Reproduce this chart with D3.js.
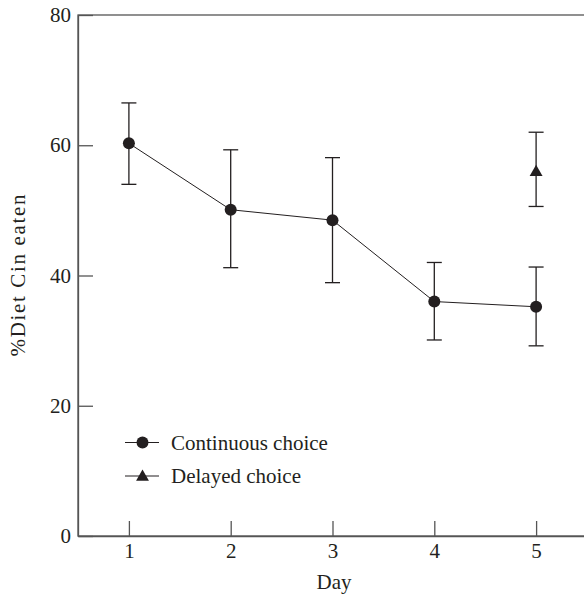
<!DOCTYPE html>
<html>
<head>
<meta charset="utf-8">
<script src="https://cdn.jsdelivr.net/npm/d3@7"></script>
<style>
  body { margin: 0; background: #fff; }
  text { font-family: "Liberation Serif", "DejaVu Serif", serif; fill: #231f20; }
</style>
</head>
<body>
<svg id="chart" width="584" height="596"></svg>
<script>
const days = [1, 2, 3, 4, 5];
const continuousMean = [60.3, 50.1, 48.5, 36.0, 35.2];
const continuousUpper = [66.5, 59.3, 58.1, 42.0, 41.3];
const continuousLower = [54.0, 41.2, 38.9, 30.1, 29.2];
const delayedDay = [5];
const delayedMean = [56.0];
const delayedUpper = [62.0];
const delayedLower = [50.6];
const yTicks = [0, 20, 40, 60, 80];

const ink = "#231f20";
const axisColor = "#555";
const fontSize = "21px";

const svg = d3.select("#chart");

const x = d3.scaleLinear().domain([0.5, 5.5]).range([78, 587]);
const y = d3.scaleLinear().domain([0, 80]).range([536, 15]);

// frame
svg.append("rect")
  .attr("x", x(0.5))
  .attr("y", y(80))
  .attr("width", x(5.5) - x(0.5))
  .attr("height", y(0) - y(80))
  .attr("fill", "none")
  .attr("stroke", axisColor)
  .attr("stroke-width", 1.3);

// axes with inward ticks
const xAxis = svg.append("g")
  .attr("transform", `translate(0,${y(0)})`)
  .call(d3.axisBottom(x).tickValues(days).tickSize(-15).tickSizeOuter(0).tickPadding(7).tickFormat(d3.format("d")));

const yAxis = svg.append("g")
  .attr("transform", `translate(${x(0.5)},0)`)
  .call(d3.axisLeft(y).tickValues(yTicks).tickSize(-15).tickSizeOuter(0));

[xAxis, yAxis].forEach(g => {
  g.select(".domain").attr("stroke", axisColor).attr("stroke-width", 1.3);
  g.selectAll(".tick line").attr("stroke", axisColor).attr("stroke-width", 1.3);
  g.selectAll(".tick text")
    .style("font-family", "'Liberation Serif', 'DejaVu Serif', serif")
    .style("font-size", fontSize)
    .attr("fill", ink);
});
yAxis.selectAll(".tick text").attr("x", -7);

// axis titles
svg.append("text")
  .attr("x", 334)
  .attr("y", 589)
  .attr("text-anchor", "middle")
  .style("font-size", fontSize)
  .text("Day");

svg.append("text")
  .attr("transform", `translate(25,${y(40)}) rotate(-90)`)
  .attr("text-anchor", "middle")
  .attr("textLength", 162)
  .attr("lengthAdjust", "spacing")
  .style("font-size", fontSize)
  .text("%Diet Cin eaten");

// continuous line
const line = d3.line().x(d => x(d[0])).y(d => y(d[1]));
svg.append("path")
  .datum(days.map((d, i) => [d, continuousMean[i]]))
  .attr("d", line)
  .attr("fill", "none")
  .attr("stroke", ink)
  .attr("stroke-width", 1);

// error bars
const capHalf = 7.5;
function errorBars(xs, lo, hi) {
  const g = svg.append("g").attr("stroke", ink).attr("stroke-width", 1.3);
  xs.forEach((d, i) => {
    g.append("line").attr("x1", x(d)).attr("x2", x(d)).attr("y1", y(lo[i])).attr("y2", y(hi[i]));
    g.append("line").attr("x1", x(d) - capHalf).attr("x2", x(d) + capHalf).attr("y1", y(lo[i])).attr("y2", y(lo[i]));
    g.append("line").attr("x1", x(d) - capHalf).attr("x2", x(d) + capHalf).attr("y1", y(hi[i])).attr("y2", y(hi[i]));
  });
}
errorBars(days, continuousLower, continuousUpper);
errorBars(delayedDay, delayedLower, delayedUpper);

const circleSym = d3.symbol().type(d3.symbolCircle).size(Math.PI * 6 * 6);
const triSym = d3.symbol().type(d3.symbolTriangle).size(72);

svg.selectAll(".cont")
  .data(days)
  .join("path")
  .attr("class", "cont")
  .attr("d", circleSym)
  .attr("transform", (d, i) => `translate(${x(d)},${y(continuousMean[i])})`)
  .attr("fill", ink);

svg.selectAll(".delay")
  .data(delayedDay)
  .join("path")
  .attr("class", "delay")
  .attr("d", triSym)
  .attr("transform", (d, i) => `translate(${x(d)},${y(delayedMean[i]) + 1})`)
  .attr("fill", ink);

// legend
const legend = svg.append("g");
const legendItems = [
  { label: "Continuous choice", sym: circleSym, y: 442.5 },
  { label: "Delayed choice", sym: triSym, y: 476 },
];
legendItems.forEach(item => {
  legend.append("line")
    .attr("x1", 125).attr("x2", 159)
    .attr("y1", item.y).attr("y2", item.y)
    .attr("stroke", ink).attr("stroke-width", 1.2);
  legend.append("path")
    .attr("d", item.sym)
    .attr("transform", `translate(142.5,${item.y + (item.sym === triSym ? 1 : 0)})`)
    .attr("fill", ink);
  legend.append("text")
    .attr("x", 171)
    .attr("y", item.y + 7)
    .style("font-size", fontSize)
    .text(item.label);
});
</script>
</body>
</html>
